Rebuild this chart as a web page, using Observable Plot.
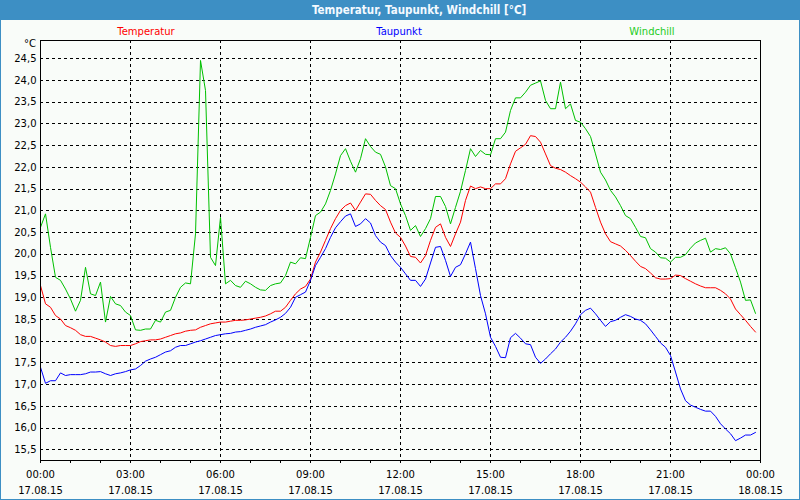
<!DOCTYPE html>
<html>
<head>
<meta charset="utf-8">
<script src="https://cdn.jsdelivr.net/npm/d3@7"></script>
<script src="https://cdn.jsdelivr.net/npm/@observablehq/plot@0.6"></script>
<style>
  html, body { margin: 0; padding: 0; background: #ffffff; }
  #win { position: relative; width: 800px; height: 500px; background: #f9fcf9; overflow: hidden;
         box-shadow: inset 1px 0 #3d8fc4, inset -1px 0 #3d8fc4, inset 0 -1px #3d8fc4; font-family: "DejaVu Sans", sans-serif; }
  #titlebar { position: absolute; left: 0; top: 0; width: 800px; height: 20px; background: #3d8fc4; }
  #title { position: absolute; left: 312px; top: 3px; color: #f4faff; font: bold 11.5px "DejaVu Sans Condensed", "DejaVu Sans", sans-serif; white-space: nowrap; }
  .leg { position: absolute; top: 26px; font-size: 10px; white-space: nowrap; transform: translateX(-50%); }
  #unit { position: absolute; left: 24px; top: 38px; font-size: 10px; }
  #chart { position: absolute; left: 0; top: 20px; }
</style>
</head>
<body>
<div id="win">
  <div id="titlebar"></div>
  <div id="title">Temperatur, Taupunkt, Windchill [°C]</div>
  <div class="leg" style="left:146px;color:#ff0000">Temperatur</div>
  <div class="leg" style="left:399px;color:#0000ff">Taupunkt</div>
  <div class="leg" style="left:652px;color:#22cc22">Windchill</div>
  <div id="unit">°C</div>
  <div id="chart"></div>
</div>
<script>
// Sample grid: 10-minute readings starting 17.08.15 00:00 (hours)
const startHour = 0;
const stepHours = 1 / 6;

// Temperatur [°C]
const temperatur = [
  19.28, 18.86, 18.78, 18.59, 18.51, 18.36, 18.31, 18.25, 18.15, 18.11, 18.11, 18.07, 18.03, 17.98, 17.90, 17.88, 17.90, 17.90, 17.90, 17.94, 17.99, 18.01, 18.03, 18.03,
  18.05, 18.09, 18.13, 18.17, 18.19, 18.23, 18.25, 18.26, 18.32, 18.36, 18.40, 18.42, 18.44, 18.44, 18.46, 18.48, 18.48, 18.49, 18.51, 18.53, 18.55, 18.58, 18.63, 18.69,
  18.69, 18.78, 18.94, 19.09, 19.20, 19.26, 19.43, 19.82, 20.05, 20.32, 20.59, 20.82, 21.01, 21.12, 21.18, 21.01, 21.20, 21.39, 21.38, 21.24, 21.12, 21.03, 20.74, 20.49,
  20.39, 20.19, 19.95, 19.93, 19.80, 19.97, 20.32, 20.62, 20.70, 20.39, 20.18, 20.47, 20.74, 21.24, 21.57, 21.51, 21.55, 21.51, 21.51, 21.62, 21.62, 21.74, 22.08, 22.37,
  22.45, 22.53, 22.73, 22.71, 22.58, 22.31, 22.04, 21.98, 21.95, 21.89, 21.81, 21.74, 21.66, 21.55, 21.43, 21.08, 20.74, 20.47, 20.29, 20.24, 20.19, 20.09, 19.97, 19.84,
  19.72, 19.67, 19.57, 19.46, 19.43, 19.43, 19.44, 19.52, 19.51, 19.44, 19.38, 19.32, 19.27, 19.23, 19.23, 19.23, 19.17, 19.09, 18.97, 18.74, 18.61, 18.48, 18.34, 18.21
];

// Taupunkt [°C]
const taupunkt = [
  17.40, 17.03, 17.09, 17.09, 17.27, 17.21, 17.23, 17.23, 17.23, 17.25, 17.29, 17.29, 17.30, 17.25, 17.21, 17.25, 17.27, 17.30, 17.34, 17.36, 17.44, 17.54, 17.59, 17.63,
  17.69, 17.75, 17.78, 17.86, 17.90, 17.90, 17.94, 17.98, 18.01, 18.05, 18.09, 18.13, 18.15, 18.17, 18.18, 18.21, 18.22, 18.25, 18.28, 18.32, 18.35, 18.38, 18.44, 18.49,
  18.55, 18.64, 18.78, 19.01, 19.07, 19.13, 19.40, 19.74, 19.93, 20.13, 20.39, 20.61, 20.75, 20.88, 20.93, 20.64, 20.70, 20.82, 20.72, 20.43, 20.28, 20.20, 19.97, 19.82,
  19.70, 19.55, 19.40, 19.40, 19.26, 19.43, 19.80, 20.16, 20.18, 19.86, 19.49, 19.70, 19.76, 20.01, 20.28, 19.67, 19.05, 18.63, 18.09, 17.88, 17.63, 17.62, 18.08, 18.18,
  18.07, 17.94, 17.92, 17.63, 17.49, 17.59, 17.71, 17.82, 17.98, 18.09, 18.23, 18.40, 18.61, 18.71, 18.76, 18.63, 18.48, 18.34, 18.45, 18.48, 18.55, 18.61, 18.57, 18.51,
  18.48, 18.40, 18.26, 18.11, 17.96, 17.86, 17.67, 17.29, 16.90, 16.63, 16.53, 16.48, 16.43, 16.39, 16.39, 16.27, 16.10, 15.98, 15.87, 15.71, 15.77, 15.84, 15.84, 15.90
];

// Windchill [°C]
const windchill = [
  20.62, 20.93, 20.16, 19.47, 19.40, 19.20, 18.97, 18.69, 18.94, 19.70, 19.09, 19.05, 19.36, 18.44, 19.03, 18.86, 18.82, 18.67, 18.59, 18.26, 18.25, 18.28, 18.28, 18.48,
  18.44, 18.67, 18.71, 19.01, 19.24, 19.34, 19.32, 20.47, 24.46, 23.77, 19.93, 19.74, 20.85, 19.32, 19.40, 19.28, 19.24, 19.38, 19.32, 19.24, 19.18, 19.17, 19.28, 19.32,
  19.34, 19.51, 19.82, 19.78, 19.92, 19.90, 20.39, 20.89, 20.97, 21.16, 21.47, 21.85, 22.27, 22.43, 22.14, 21.89, 22.20, 22.66, 22.48, 22.35, 22.30, 22.01, 21.58, 21.51,
  21.16, 20.89, 20.55, 20.66, 20.41, 20.59, 20.82, 21.33, 21.33, 21.10, 20.70, 21.08, 21.45, 21.93, 22.43, 22.25, 22.39, 22.30, 22.29, 22.66, 22.66, 22.81, 23.31, 23.60,
  23.60, 23.73, 23.89, 23.94, 23.99, 23.54, 23.35, 23.35, 23.96, 23.35, 23.46, 23.08, 23.04, 22.89, 22.71, 22.31, 21.89, 21.71, 21.47, 21.32, 21.12, 20.89, 20.82, 20.62,
  20.41, 20.38, 20.13, 20.05, 19.92, 19.91, 19.82, 19.93, 19.93, 19.99, 20.14, 20.26, 20.32, 20.37, 20.05, 20.13, 20.11, 20.15, 20.01, 19.69, 19.36, 18.94, 18.95, 18.64
];

// Axis ticks and labels
const yTicks = [15.5, 16.0, 16.5, 17.0, 17.5, 18.0, 18.5, 19.0, 19.5, 20.0, 20.5, 21.0, 21.5, 22.0, 22.5, 23.0, 23.5, 24.0, 24.5];
const majorTicks = [0, 3, 6, 9, 12, 15, 18, 21, 24];
const innerTicks = [3, 6, 9, 12, 15, 18, 21];
const hourTicks = [0,1,2,3,4,5,6,7,8,9,10,11,12,13,14,15,16,17,18,19,20,21,22,23,24];
const timeLabels = ["00:00", "03:00", "06:00", "09:00", "12:00", "15:00", "18:00", "21:00", "00:00"];
const dateLabels = ["17.08.15", "17.08.15", "17.08.15", "17.08.15", "17.08.15", "17.08.15", "17.08.15", "17.08.15", "18.08.15"];

const series = [
  {name: "Windchill", values: windchill, color: "#00c000"},
  {name: "Temperatur", values: temperatur, color: "#ff0000"},
  {name: "Taupunkt", values: taupunkt, color: "#0000ff"}
];

const rows = series.map(s => s.values.map((v, i) => ({t: startHour + i * stepHours, v, name: s.name})));

const chart = Plot.plot({
  width: 800,
  height: 480,
  marginLeft: 40,
  marginRight: 40,
  marginTop: 20,
  marginBottom: 40,
  style: {fontFamily: "DejaVu Sans, sans-serif", fontSize: "10px", background: "transparent", color: "black", overflow: "visible"},
  x: {domain: [0, 24]},
  y: {domain: [15.254, 24.92]},
  marks: [
    Plot.gridY(yTicks, {stroke: "black", strokeOpacity: 1, strokeDasharray: "3,3", shapeRendering: "crispEdges"}),
    Plot.gridX(innerTicks, {stroke: "black", strokeOpacity: 1, strokeDasharray: "3,3", shapeRendering: "crispEdges"}),
    ...series.map((s, k) => Plot.line(rows[k], {x: "t", y: "v", stroke: s.color, strokeWidth: 1})),
    Plot.frame({stroke: "black", shapeRendering: "crispEdges"}),
    Plot.axisY(yTicks, {tickSize: 0, tickPadding: 4, tickFormat: d => d.toFixed(1).replace(".", ","), label: null, fill: "black"}),
    Plot.axisX(hourTicks, {tickSize: 3, tickFormat: () => "", label: null, shapeRendering: "crispEdges"}),
    Plot.axisX(majorTicks, {tickSize: 3, tickPadding: 7, tickFormat: d => timeLabels[majorTicks.indexOf(d)], label: null, fill: "black"}),
    Plot.axisX(majorTicks, {tickSize: 0, tickPadding: 26, tickFormat: d => dateLabels[majorTicks.indexOf(d)], label: null, fill: "black"})
  ]
});
document.getElementById("chart").appendChild(chart);
</script>
</body>
</html>
